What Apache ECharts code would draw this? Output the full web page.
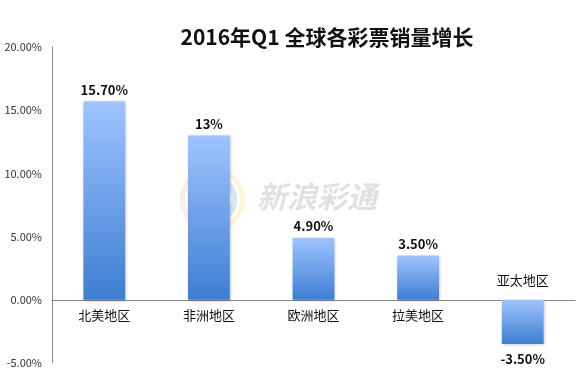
<!DOCTYPE html>
<html>
<head>
<meta charset="utf-8">
<script src="https://cdn.jsdelivr.net/npm/echarts@6/dist/echarts.min.js"></script>
<style>
html,body{margin:0;padding:0;background:#fff;}
#main{width:578px;height:373px;}
</style>
</head>
<body>
<div id="main"></div>
<script>
var categories = ['北美地区', '非洲地区', '欧洲地区', '拉美地区', '亚太地区'];
var values = [15.7, 13, 4.9, 3.5, -3.5];
var valueLabels = ['15.70%', '13%', '4.90%', '3.50%', '-3.50%'];
var yTicks = [-5, 0, 5, 10, 15, 20];
var titleText = '2016年Q1 全球各彩票销量增长';
var watermarkText = '新浪彩通';

var chart = echarts.init(document.getElementById('main'), null, {renderer: 'canvas'});
var font = '"Noto Sans CJK SC", "Noto Sans", sans-serif';

var barGradient = new echarts.graphic.LinearGradient(0, 0, 0, 1, [
  {offset: 0, color: '#9fc4ff'},
  {offset: 1, color: '#3d7ed1'}
]);

var option = {
  backgroundColor: '#ffffff',
  animation: false,
  title: {
    text: titleText,
    left: 322,
    textAlign: 'center',
    top: 22,
    textStyle: {fontFamily: font, fontSize: 21, fontWeight: 'bold', color: '#111'}
  },
  grid: {left: 52, right: 3, top: 47, bottom: 10, containLabel: false},
  xAxis: {
    type: 'category',
    data: categories,
    axisLine: {show: true, onZero: true, lineStyle: {color: '#868686', width: 1}},
    axisTick: {show: false},
    axisLabel: {show: false},
    splitLine: {show: false}
  },
  yAxis: {
    type: 'value',
    min: yTicks[0],
    max: yTicks[yTicks.length - 1],
    interval: 5,
    axisLine: {show: true, lineStyle: {color: '#868686', width: 1}},
    axisTick: {show: false},
    splitLine: {show: false},
    axisLabel: {
      margin: 10,
      color: '#333',
      fontFamily: font,
      fontSize: 11,
      formatter: function (v) { return v.toFixed(2) + '%'; }
    }
  },
  series: [
    {
      type: 'bar',
      barWidth: '40%',
      barGap: '-100%',
      data: values.map(function (v, i) {
        return {
          value: v,
          label: {
            show: true,
            position: v < 0 ? 'bottom' : 'top',
            distance: v < 0 ? 9 : 5,
            formatter: valueLabels[i]
          }
        };
      }),
      itemStyle: {
        color: barGradient,
        shadowColor: 'rgba(0,0,0,0.25)',
        shadowBlur: 3,
        shadowOffsetX: 1,
        shadowOffsetY: 1
      },
      label: {fontFamily: font, fontSize: 13, fontWeight: 'bold', color: '#111'},
      z: 2
    },
    {
      type: 'bar',
      barWidth: '40%',
      barGap: '-100%',
      silent: true,
      itemStyle: {color: 'transparent'},
      data: values.map(function (v, i) {
        return {
          value: 0,
          name: categories[i],
          label: {
            show: true,
            position: v < 0 ? 'top' : 'bottom',
            distance: v < 0 ? 13 : 9,
            formatter: categories[i]
          }
        };
      }),
      label: {fontFamily: font, fontSize: 13, color: '#111'},
      z: 3
    }
  ],
  graphic: [
    {
      type: 'group', left: 180, top: 167, z: 10, silent: true,
      children: [
        {type: 'arc', shape: {cx: 33, cy: 33, r: 30, startAngle: Math.PI * 0.55, endAngle: Math.PI * 1.45}, style: {fill: 'none', stroke: 'rgba(245,170,170,0.22)', lineWidth: 5}},
        {type: 'arc', shape: {cx: 33, cy: 33, r: 30, startAngle: Math.PI * 1.45, endAngle: Math.PI * 2.55}, style: {fill: 'none', stroke: 'rgba(250,225,140,0.35)', lineWidth: 5}},
        {type: 'circle', shape: {cx: 33, cy: 33, r: 22}, style: {fill: 'none', stroke: 'rgba(150,185,230,0.35)', lineWidth: 6}},
        {type: 'circle', shape: {cx: 32, cy: 33, r: 12}, style: {fill: 'rgba(130,140,170,0.35)'}},
        {type: 'circle', shape: {cx: 32, cy: 34, r: 4}, style: {fill: 'rgba(255,255,255,0.55)'}},
        {type: 'circle', shape: {cx: 39, cy: 29, r: 2}, style: {fill: 'rgba(255,255,255,0.55)'}}
      ]
    },
    {
      type: 'text', left: 257, top: 182, z: 10, silent: true,
      style: {
        text: watermarkText,
        font: 'italic bold 30px "Noto Sans CJK SC", sans-serif',
        fill: 'rgba(205,205,205,0.6)'
      }
    }
  ]
};
chart.setOption(option);
</script>
</body>
</html>
